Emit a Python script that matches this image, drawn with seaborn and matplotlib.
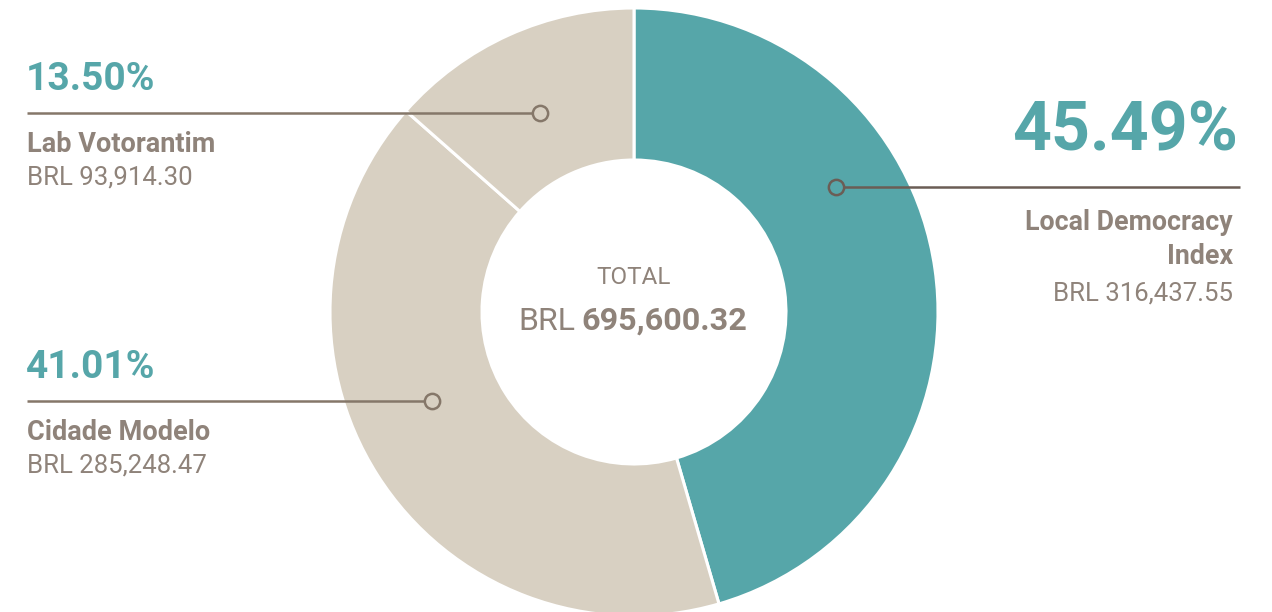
import matplotlib
matplotlib.use("Agg")
import matplotlib.pyplot as plt
import seaborn as sns

# ---- data ----
categories = ["Local Democracy Index", "Cidade Modelo", "Lab Votorantim"]
values = [316437.55, 285248.47, 93914.30]
pct_labels = ["45.49%", "41.01%", "13.50%"]
value_labels = ["BRL 316,437.55", "BRL 285,248.47", "BRL 93,914.30"]
total_label = "695,600.32"

TEAL = "#56A6A9"
BEIGE = "#D8D0C2"
GREY = "#8F837A"
LINE = "#857769"
LINE_DARK = "#6B5D55"

sns.set_theme(style="white")
plt.rcParams["font.family"] = ["Roboto", "DejaVu Sans"]

W, H = 1272, 612
fig = plt.figure(figsize=(W / 100, H / 100), dpi=100)
ax = fig.add_axes([0, 0, 1, 1])

cx, cy, R = 634, H - 312, 304
colors = [TEAL, BEIGE, BEIGE]
ax.pie(values, colors=colors, startangle=90, counterclock=False,
       center=(cx, cy), radius=R,
       wedgeprops=dict(width=R - 152, edgecolor="white", linewidth=2.2))
ax.set_xlim(0, W)
ax.set_ylim(0, H)
ax.set_aspect("equal")
ax.axis("off")

def Y(y):
    return H - y

# center text
ax.text(cx, Y(278), "TOTAL", ha="center", va="center", fontsize=17.5, color=GREY)
ax.text(575, Y(321), "BRL", ha="right", va="center", fontsize=23, color=GREY)
ax.text(581, Y(321), total_label, ha="left", va="center", fontsize=23.3,
        color=GREY, fontweight="bold")

# Right annotation (Local Democracy Index)
ax.plot([843, 1240], [Y(187), Y(187)], color=LINE_DARK, lw=1.8, solid_capstyle="butt")
ax.plot([836], [Y(187)], "o", ms=11, mfc="none", mec=LINE_DARK, mew=1.8)
ax.text(1238, Y(132), pct_labels[0], ha="right", va="center", fontsize=49,
        color=TEAL, fontweight="bold")
ax.text(1233, Y(223), "Local Democracy", ha="right", va="center", fontsize=19.3,
        color=GREY, fontweight="bold")
ax.text(1233, Y(256), "Index", ha="right", va="center", fontsize=19.3,
        color=GREY, fontweight="bold")
ax.text(1233, Y(294), value_labels[0], ha="right", va="center", fontsize=18.5,
        color=GREY)

# Left annotations
for pct, name, val, ly, mx in [(pct_labels[2], categories[2], value_labels[2], 113, 540),
                               (pct_labels[1], categories[1], value_labels[1], 401, 432)]:
    ax.plot([27, mx - 7], [Y(ly), Y(ly)], color=LINE, lw=1.8, solid_capstyle="butt")
    ax.plot([mx], [Y(ly)], "o", ms=11, mfc="none", mec=LINE, mew=1.8)
    ax.text(26, Y(ly - 34), pct, ha="left", va="center", fontsize=28,
            color=TEAL, fontweight="bold")
    ax.text(27, Y(ly + 32), name, ha="left", va="center", fontsize=19.5,
            color=GREY, fontweight="bold")
    ax.text(27, Y(ly + 65), val, ha="left", va="center", fontsize=18.5,
            color=GREY)

fig.savefig("out.png", dpi=100, facecolor="white")
